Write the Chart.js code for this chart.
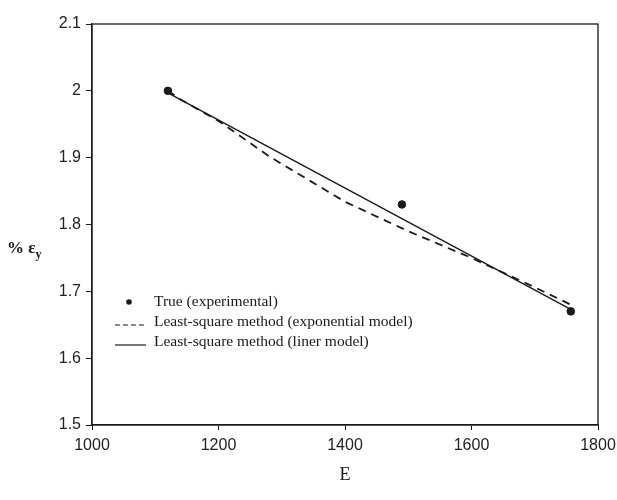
<!DOCTYPE html>
<html>
<head>
<meta charset="utf-8">
<script src="https://cdn.jsdelivr.net/npm/chart.js@4.4.1/dist/chart.umd.min.js"></script>
<style>
  body { margin: 0; background: #fff; }
  canvas { display: block; }
</style>
</head>
<body>
<canvas id="chart" width="617" height="500"></canvas>
<script>
// tick values on both axes
const xTicks = [1000, 1200, 1400, 1600, 1800];
const yTicks = [1.5, 1.6, 1.7, 1.8, 1.9, 2.0, 2.1];

// experimental points
const trueE = [1120, 1490, 1757];
const trueStrain = [2.0, 1.83, 1.67];

// exponential model curve
const expE = [1120, 1140, 1200, 1280, 1400, 1500, 1600, 1700, 1757];
const expStrain = [2.0, 1.987, 1.955, 1.902, 1.834, 1.79, 1.75, 1.706, 1.68];

// linear model line
const linE = [1120, 1757];
const linStrain = [1.997, 1.673];

const seriesLabels = [
  "True (experimental)",
  "Least-square method (exponential model)",
  "Least-square method (liner model)",
];

const ink = "#1a1a1a";

function toPoints(xs, ys) {
  return xs.map((x, i) => ({ x: x, y: ys[i] }));
}

// draws the box round the plot, the y label and the legend inside the plot
const extras = {
  id: "extras",
  afterDraw(chart) {
    const ctx = chart.ctx;
    const a = chart.chartArea;
    ctx.save();
    ctx.strokeStyle = ink;
    ctx.lineWidth = 1.3;
    ctx.strokeRect(a.left, a.top, a.right - a.left, a.bottom - a.top);

    // y axis label: % e with subscript y
    ctx.fillStyle = ink;
    ctx.textBaseline = "alphabetic";
    ctx.font = "bold 17px 'Liberation Serif'";
    ctx.fillText("% ε", 7, 253);
    const w = ctx.measureText("% ε").width;
    ctx.font = "bold 12px 'Liberation Serif'";
    ctx.fillText("y", 7 + w, 258);

    // legend
    const rows = [302, 322, 342];
    ctx.font = "15.5px 'Liberation Serif'";
    ctx.textBaseline = "middle";
    chart.data.datasets.forEach((ds, i) => {
      const y = rows[i];
      if (ds.showLine === false) {
        ctx.beginPath();
        ctx.arc(129, y, 2.8, 0, Math.PI * 2);
        ctx.fill();
      } else {
        ctx.beginPath();
        ctx.setLineDash(ds.borderDash ? [5, 3] : []);
        ctx.lineWidth = 1.2;
        ctx.moveTo(115, y + 3);
        ctx.lineTo(146, y + 3);
        ctx.stroke();
        ctx.setLineDash([]);
      }
      ctx.fillText(ds.label, 154, y);
    });
    ctx.restore();
  },
};

new Chart(document.querySelector("#chart"), {
  type: "scatter",
  data: {
    datasets: [
      {
        label: seriesLabels[0],
        data: toPoints(trueE, trueStrain),
        showLine: false,
        pointRadius: 3.8,
        backgroundColor: ink,
        borderColor: ink,
      },
      {
        label: seriesLabels[1],
        data: toPoints(expE, expStrain),
        showLine: true,
        borderDash: [8, 6],
        borderWidth: 1.8,
        borderColor: ink,
        pointRadius: 0,
        tension: 0,
      },
      {
        label: seriesLabels[2],
        data: toPoints(linE, linStrain),
        showLine: true,
        borderWidth: 1.4,
        borderColor: ink,
        pointRadius: 0,
      },
    ],
  },
  options: {
    responsive: false,
    animation: false,
    devicePixelRatio: 1,
    layout: { padding: { left: 0, right: 19, top: 24, bottom: 0 } },
    plugins: {
      legend: { display: false },
      tooltip: { enabled: false },
    },
    scales: {
      x: {
        type: "linear",
        min: 1000,
        max: 1800,
        afterBuildTicks: (s) => {
          s.ticks = xTicks.map((v) => ({ value: v }));
        },
        afterFit: (s) => {
          s.height = 75;
          s.paddingLeft = 0;
          s.paddingRight = 0;
        },
        grid: {
          drawOnChartArea: false,
          color: ink,
          tickLength: 5,
        },
        border: { color: ink, width: 1.3 },
        ticks: {
          color: "#222",
          padding: 6,
          font: { family: "'Liberation Sans'", size: 16 },
          callback: (v) => String(v),
        },
        title: {
          display: true,
          text: "E",
          color: ink,
          font: { family: "'Liberation Serif'", size: 18 },
          padding: { top: 0, bottom: 14 },
        },
      },
      y: {
        type: "linear",
        min: 1.5,
        max: 2.1,
        afterBuildTicks: (s) => {
          s.ticks = yTicks.map((v) => ({ value: v }));
        },
        afterFit: (s) => {
          s.width = 92;
          s.paddingTop = 0;
          s.paddingBottom = 0;
        },
        grid: {
          drawOnChartArea: false,
          color: ink,
          tickLength: 6,
        },
        border: { color: ink, width: 1.3 },
        ticks: {
          color: "#222",
          padding: 5,
          font: { family: "'Liberation Sans'", size: 16 },
          callback: (v) => String(+v.toFixed(1)),
        },
      },
    },
  },
  plugins: [extras],
});
</script>
</body>
</html>
